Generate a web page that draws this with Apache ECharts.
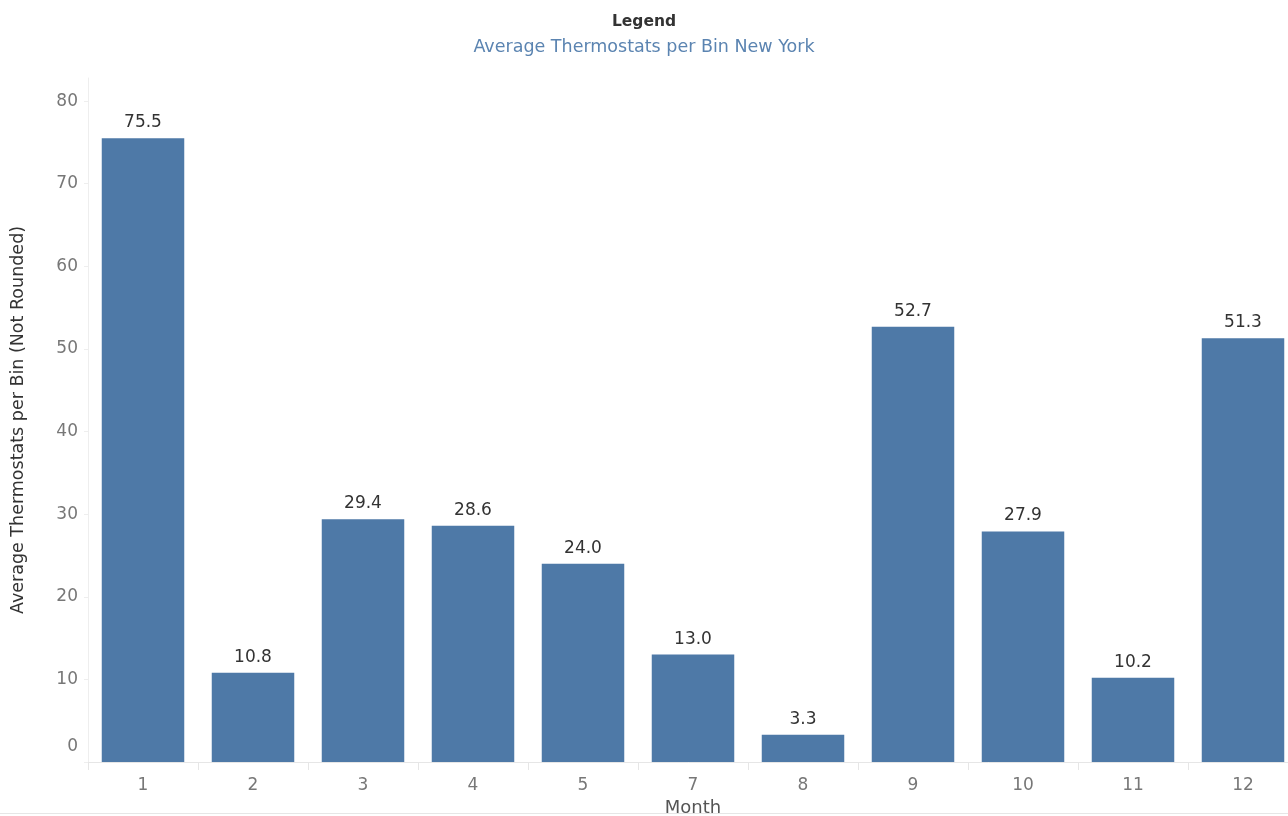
<!DOCTYPE html>
<html>
<head>
<meta charset="utf-8">
<script src="https://cdn.jsdelivr.net/npm/echarts@6/dist/echarts.min.js"></script>
<style>
html,body{margin:0;padding:0;background:#fff;overflow:hidden;}
#chart{width:1288px;height:816px;}
</style>
</head>
<body>
<div id="chart"></div>
<script>
const months = ['1','2','3','4','5','7','8','9','10','11','12'];
const avgThermostats = [75.5, 10.8, 29.4, 28.6, 24.0, 13.0, 3.3, 52.7, 27.9, 10.2, 51.3];
const titleText = 'Legend';
const subtitleText = 'Average Thermostats per Bin New York';
const yAxisName = 'Average Thermostats per Bin (Not Rounded)';
const xAxisName = 'Month';

const chart = echarts.init(document.getElementById('chart'));
const font = '"DejaVu Sans", "Noto Sans", sans-serif';
chart.setOption({
  backgroundColor: '#fff',
  animation: false,
  textStyle: { fontFamily: font },
  title: {
    text: titleText,
    subtext: subtitleText,
    left: 'center',
    top: 9,
    itemGap: 8,
    textStyle: { fontSize: 15.5, fontWeight: 'bold', color: '#333', fontFamily: font },
    subtextStyle: { fontSize: 17.5, color: '#5b84b1', fontFamily: font }
  },
  grid: { left: 88, right: -10, top: 78, bottom: 54, containLabel: false, outerBoundsMode: 'none' },
  xAxis: {
    type: 'category',
    data: months,
    name: xAxisName,
    nameLocation: 'middle',
    nameGap: 34,
    nameTextStyle: { fontSize: 18, color: '#555', fontFamily: font },
    axisLine: { lineStyle: { color: '#e6e6e6' } },
    axisTick: { show: true, length: 8, inside: false, lineStyle: { color: '#e6e6e6' } },
    axisLabel: { fontSize: 17, color: '#777', margin: 15, fontFamily: font }
  },
  yAxis: {
    type: 'value',
    min: 0,
    max: 82.8,
    interval: 10,
    name: yAxisName,
    nameLocation: 'middle',
    nameGap: 61,
    nameRotate: 90,
    nameTextStyle: { fontSize: 17.5, color: '#333', fontFamily: font },
    axisLine: { show: true, lineStyle: { color: '#eeeeee' } },
    axisTick: { show: true, length: 4, lineStyle: { color: '#eeeeee' } },
    splitLine: { show: false },
    axisLabel: {
      fontSize: 17, color: '#777', margin: 10, fontFamily: font,
      showMaxLabel: false,
      formatter: function (v) { return v === 0 ? '{z|0}' : String(v); },
      rich: { z: { fontSize: 17, color: '#777', padding: [0, 0, 30, 0], fontFamily: font } }
    }
  },
  series: [{
    type: 'bar',
    data: avgThermostats,
    barCategoryGap: '25%',
    itemStyle: { color: '#4e79a7' },
    label: {
      show: true,
      position: 'top',
      distance: 7,
      fontSize: 17,
      color: '#333',
      fontFamily: font,
      formatter: function (p) { return p.value.toFixed(1); }
    }
  }],
  graphic: [{
    type: 'rect',
    shape: { x: 0, y: 813, width: 1288, height: 1 },
    style: { fill: '#e6e6e6' },
    silent: true
  }]
});
</script>
</body>
</html>
